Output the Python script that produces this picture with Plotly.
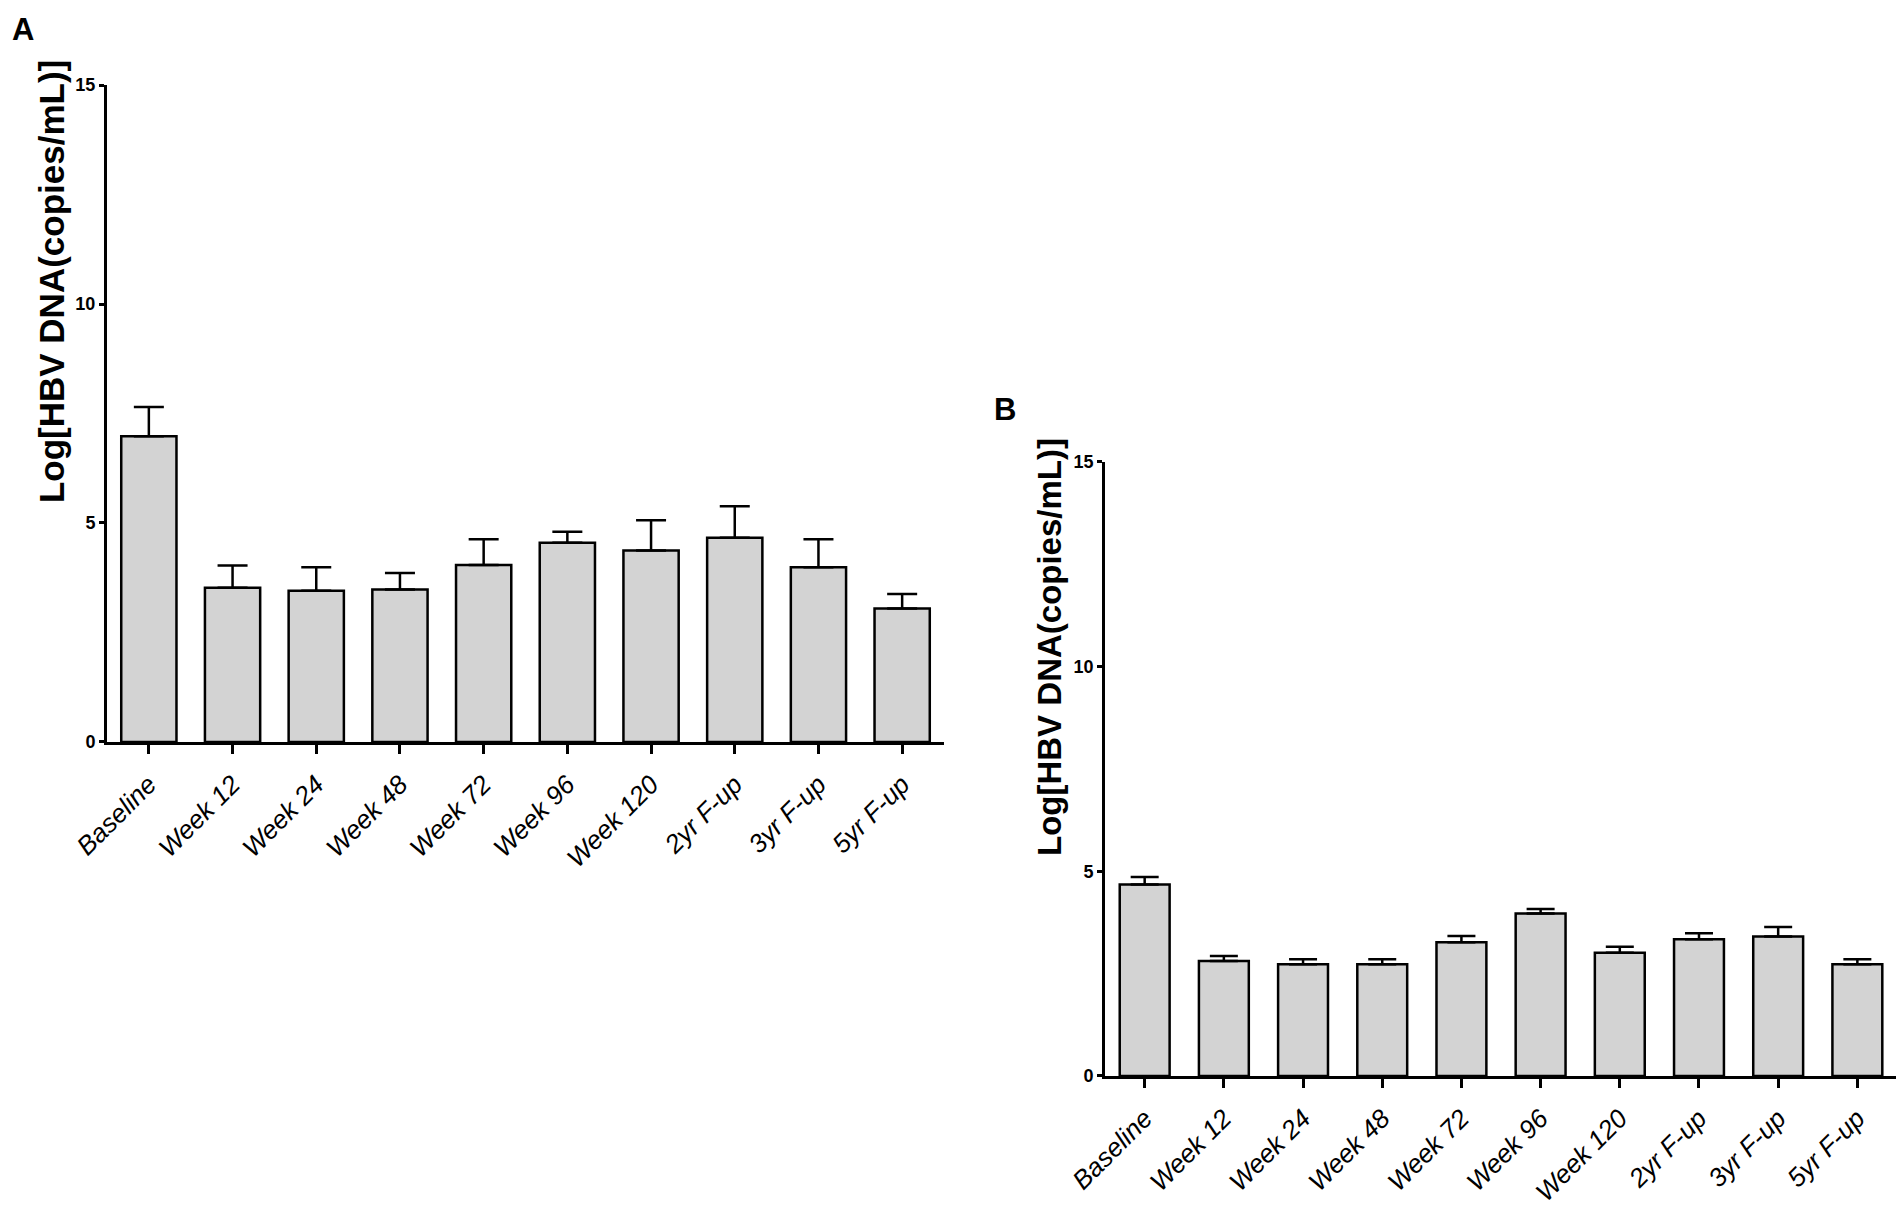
import plotly.graph_objects as go

# time points shared by both panels
categories = ["Baseline", "Week 12", "Week 24", "Week 48", "Week 72",
              "Week 96", "Week 120", "2yr F-up", "3yr F-up", "5yr F-up"]

# panel A: mean log HBV DNA and upper error
a_mean = [6.98, 3.52, 3.45, 3.48, 4.04, 4.55, 4.37, 4.66, 3.99, 3.05]
a_err = [0.67, 0.51, 0.54, 0.38, 0.59, 0.25, 0.69, 0.72, 0.64, 0.33]

# panel B
b_mean = [4.68, 2.81, 2.73, 2.73, 3.27, 3.97, 3.01, 3.34, 3.41, 2.73]
b_err = [0.18, 0.12, 0.12, 0.12, 0.15, 0.11, 0.15, 0.15, 0.23, 0.12]

y_ticks = [0, 5, 10, 15]
y_title = "Log[HBV DNA(copies/mL)]"

font_main = "Liberation Sans, Arial, sans-serif"
bar_fill = "rgb(211, 211, 211)"

# the page body adds an 8px margin, shift the domains back by that much
dx = 8 / 1904
dy = 8 / 1229

fig = go.Figure()

fig.add_trace(go.Bar(x=categories, y=a_mean, width=0.66,
                     marker=dict(color=bar_fill, line=dict(color="black", width=2.5)),
                     error_y=dict(type="data", array=a_err, arrayminus=[0] * len(a_err),
                                  symmetric=False, color="black", thickness=2.5, width=15),
                     xaxis="x", yaxis="y", showlegend=False))

fig.add_trace(go.Bar(x=categories, y=b_mean, width=0.63,
                     marker=dict(color=bar_fill, line=dict(color="black", width=2.5)),
                     error_y=dict(type="data", array=b_err, arrayminus=[0] * len(b_err),
                                  symmetric=False, color="black", thickness=2.5, width=14),
                     xaxis="x2", yaxis="y2", showlegend=False))

# the default template turns automargin on, which moves the fixed domains
xaxis_style = dict(type="category", range=[-0.5, 9.5], showline=True, linecolor="black",
                   linewidth=3, ticks="outside", ticklen=9, tickwidth=2.5, tickcolor="black",
                   tickangle=-45, showgrid=False, zeroline=False, automargin=False,
                   ticklabelstandoff=5,
                   tickfont=dict(family=font_main, size=26, color="black", style="italic"))
yaxis_style = dict(range=[0, 15], tickvals=y_ticks, showline=True, linecolor="black",
                   linewidth=3, ticks="outside", ticklen=5, tickwidth=2.5, tickcolor="black",
                   showgrid=False, zeroline=False, automargin=False,
                   tickfont=dict(family=font_main, size=18, color="black", weight="bold"))

fig.update_layout(
    width=1904, height=1229,
    margin=dict(l=0, r=0, t=0, b=0),
    paper_bgcolor="white", plot_bgcolor="white",
    xaxis=dict(domain=[0.0562 - dx, 0.4958 - dx], anchor="y", **xaxis_style),
    yaxis=dict(domain=[0.3963 + dy, 0.9308 + dy], anchor="x", **yaxis_style),
    xaxis2=dict(domain=[0.5804 - dx, 0.9963 - dx], anchor="y2", **xaxis_style),
    yaxis2=dict(domain=[0.1245 + dy, 0.6241 + dy], anchor="x2", **yaxis_style),
)

# y titles sit off-centre in the original, so place them by hand
fig.add_annotation(text=y_title, textangle=-90, x=0.0268 - dx, y=0.7705 + dy,
                   xref="paper", yref="paper", xanchor="center", yanchor="middle", showarrow=False,
                   font=dict(family=font_main, size=35, color="black", weight="bold"))
fig.add_annotation(text=y_title, textangle=-90, x=0.5515 - dx, y=0.4736 + dy,
                   xref="paper", yref="paper", xanchor="center", yanchor="middle", showarrow=False,
                   font=dict(family=font_main, size=33, color="black", weight="bold"))

# panel letters
fig.add_annotation(text="A", x=0.0121 - dx, y=0.9764 + dy, xref="paper", yref="paper",
                   xanchor="center", yanchor="middle", showarrow=False,
                   font=dict(family=font_main, size=31, color="black", weight="bold"))
fig.add_annotation(text="B", x=0.5278 - dx, y=0.6672 + dy, xref="paper", yref="paper",
                   xanchor="center", yanchor="middle", showarrow=False,
                   font=dict(family=font_main, size=31, color="black", weight="bold"))

fig.write_html("out.html")
